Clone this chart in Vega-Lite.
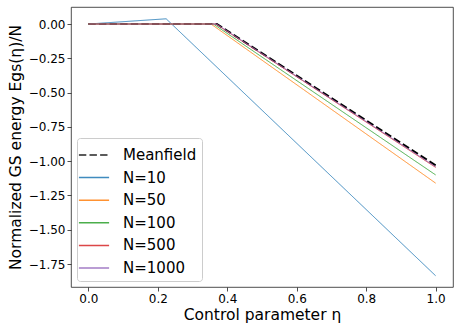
{
  "$schema": "https://vega.github.io/schema/vega-lite/v6.json",
  "width": 382,
  "height": 280,
  "autosize": "none",
  "padding": {"left": 71, "top": 7, "right": 1, "bottom": 36},
  "config": {
    "font": "DejaVu Sans",
    "view": {"stroke": "#222", "strokeWidth": 0.8},
    "axis": {"grid": false, "domain": false, "tickColor": "#222", "tickSize": 4, "tickWidth": 0.8, "labelColor": "#000", "labelFontSize": 12, "titleFontSize": 15.5, "titleFontWeight": "normal", "titleColor": "#000", "labelFont": "DejaVu Sans", "titleFont": "DejaVu Sans"}
  },
  "data": {"values": [
    {"eta": 0.0, "E": 0.0, "series": "Meanfield"},
    {"eta": 0.37, "E": 0.0, "series": "Meanfield"},
    {"eta": 1.0, "E": -1.03, "series": "Meanfield"},
    {"eta": 0.0, "E": 0.0, "series": "N=10"},
    {"eta": 0.224, "E": 0.038, "series": "N=10"},
    {"eta": 1.0, "E": -1.835, "series": "N=10"},
    {"eta": 0.0, "E": 0.0, "series": "N=50"},
    {"eta": 0.353, "E": 0.0, "series": "N=50"},
    {"eta": 1.0, "E": -1.16, "series": "N=50"},
    {"eta": 0.0, "E": 0.0, "series": "N=100"},
    {"eta": 0.36, "E": 0.0, "series": "N=100"},
    {"eta": 1.0, "E": -1.10, "series": "N=100"},
    {"eta": 0.0, "E": 0.0, "series": "N=500"},
    {"eta": 0.367, "E": 0.0, "series": "N=500"},
    {"eta": 1.0, "E": -1.045, "series": "N=500"},
    {"eta": 0.0, "E": 0.0, "series": "N=1000"},
    {"eta": 0.369, "E": 0.0, "series": "N=1000"},
    {"eta": 1.0, "E": -1.04, "series": "N=1000"}
  ]},
  "encoding": {
    "x": {"field": "eta", "type": "quantitative", "scale": {"domain": [-0.05, 1.05], "nice": false}, "axis": {"values": [0, 0.2, 0.4, 0.6, 0.8, 1.0], "format": ".1f", "title": "Control parameter η", "titlePadding": 3}},
    "y": {"field": "E", "type": "quantitative", "scale": {"domain": [-1.917, 0.124], "nice": false, "zero": false}, "axis": {"values": [0, -0.25, -0.5, -0.75, -1.0, -1.25, -1.5, -1.75], "format": ".2f", "title": "Normalized GS energy Egs(η)/N", "titlePadding": 5}},
    "color": {"field": "series", "type": "nominal", "scale": {"domain": ["Meanfield", "N=10", "N=50", "N=100", "N=500", "N=1000"], "range": ["#000000", "#1f77b4", "#ff7f0e", "#2ca02c", "#d62728", "#9467bd"]},
      "legend": {"title": null, "orient": "bottom-left", "offset": 6, "labelFontSize": 15, "labelColor": "#000", "symbolType": "M-1.35,0H1.35", "symbolSize": 500, "symbolStrokeWidth": 1.5, "symbolOpacity": 0.6, "rowPadding": 2.6, "padding": 5, "strokeColor": "#ccc", "fillColor": "rgba(255,255,255,0.8)", "cornerRadius": 3, "labelOffset": 17}},
    "strokeDash": {"field": "series", "type": "nominal", "scale": {"domain": ["Meanfield", "N=10", "N=50", "N=100", "N=500", "N=1000"], "range": [[7.4, 3.2], [1, 0], [1, 0], [1, 0], [1, 0], [1, 0]]}}
  },
  "layer": [
    {"transform": [{"filter": "datum.series === 'Meanfield'"}], "mark": {"type": "line", "clip": true, "strokeWidth": 2}},
    {"transform": [{"filter": "datum.series !== 'Meanfield'"}], "mark": {"type": "line", "clip": true, "strokeWidth": 1, "opacity": 0.85}}
  ]
}
